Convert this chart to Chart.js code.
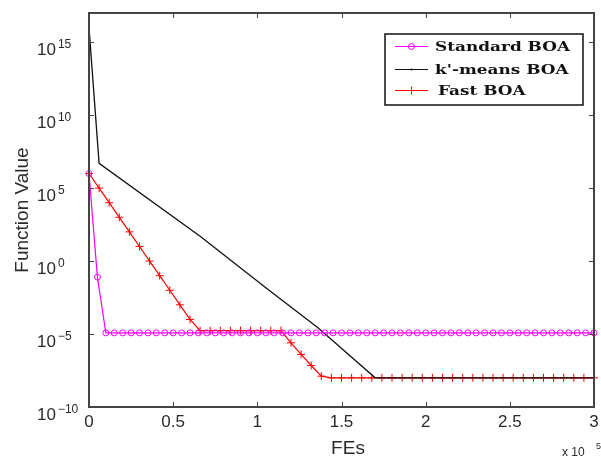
<!DOCTYPE html>
<html>
<head>
<meta charset="utf-8">
<script src="https://cdn.jsdelivr.net/npm/chart.js@4.4.1/dist/chart.umd.min.js"></script>
<style>
  html, body { margin: 0; padding: 0; background: #fff; }
</style>
</head>
<body>
<canvas id="c" width="601" height="457"></canvas>
<script>
// convergence curves, x in function evaluations (FEs)
const fesStandard = [0, 5000, 10000, 15000, 20000, 25000, 30000, 35000, 40000, 45000, 50000,
  55000, 60000, 65000, 70000, 75000, 80000, 85000, 90000, 95000, 100000,
  105000, 110000, 115000, 120000, 125000, 130000, 135000, 140000, 145000, 150000,
  155000, 160000, 165000, 170000, 175000, 180000, 185000, 190000, 195000, 200000,
  205000, 210000, 215000, 220000, 225000, 230000, 235000, 240000, 245000, 250000,
  255000, 260000, 265000, 270000, 275000, 280000, 285000, 290000, 295000, 300000];
const standardBOA = [1e6, 0.08, 1.2e-5, 1.2e-5, 1.2e-5, 1.2e-5, 1.2e-5, 1.2e-5, 1.2e-5, 1.2e-5, 1.2e-5,
  1.2e-5, 1.2e-5, 1.2e-5, 1.2e-5, 1.2e-5, 1.2e-5, 1.2e-5, 1.2e-5, 1.2e-5, 1.2e-5,
  1.2e-5, 1.2e-5, 1.2e-5, 1.2e-5, 1.2e-5, 1.2e-5, 1.2e-5, 1.2e-5, 1.2e-5, 1.2e-5,
  1.2e-5, 1.2e-5, 1.2e-5, 1.2e-5, 1.2e-5, 1.2e-5, 1.2e-5, 1.2e-5, 1.2e-5, 1.2e-5,
  1.2e-5, 1.2e-5, 1.2e-5, 1.2e-5, 1.2e-5, 1.2e-5, 1.2e-5, 1.2e-5, 1.2e-5, 1.2e-5,
  1.2e-5, 1.2e-5, 1.2e-5, 1.2e-5, 1.2e-5, 1.2e-5, 1.2e-5, 1.2e-5, 1.2e-5, 1.2e-5];

const fesKmeans = [0, 6000, 66000, 106000, 136000, 170000, 300000];
const kmeansBOA = [1e16, 5e6, 51, 1.2e-2, 2.7e-5, 1e-8, 1e-8];

const fesFast = [0, 6000, 12000, 18000, 24000, 30000, 36000, 42000, 48000, 54000, 60000,
  66000, 72000, 78000, 84000, 90000, 96000, 102000, 108000, 114000, 120000,
  126000, 132000, 138000, 144000, 150000, 156000, 162000, 168000, 174000, 180000,
  186000, 192000, 198000, 204000, 210000, 216000, 222000, 228000, 234000, 240000,
  246000, 252000, 258000, 264000, 270000, 276000, 282000, 288000, 294000, 300000];
const fastBOA = [1e6, 1e5, 1e4, 1e3, 100, 10, 1, 0.1, 0.01, 1e-3, 1e-4,
  1.7e-5, 1.7e-5, 1.7e-5, 1.7e-5, 1.7e-5, 1.7e-5, 1.7e-5, 1.7e-5, 1.7e-5, 2.5e-6,
  4e-7, 7e-8, 1.3e-8, 1e-8, 1e-8, 1e-8, 1e-8, 1e-8, 1e-8, 1e-8,
  1e-8, 1e-8, 1e-8, 1e-8, 1e-8, 1e-8, 1e-8, 1e-8, 1e-8, 1e-8,
  1e-8, 1e-8, 1e-8, 1e-8, 1e-8, 1e-8, 1e-8, 1e-8, 1e-8, 1e-8];

const seriesNames = ["Standard BOA", "k'-means BOA", "Fast BOA"];
const seriesColors = ["#ff00ff", "#111111", "#ff0000"];

const xTickValues = [0, 50000, 100000, 150000, 200000, 250000, 300000];
const xTickLabels = ["0", "0.5", "1", "1.5", "2", "2.5", "3"];
const yTickExps = [-10, -5, 0, 5, 10, 15];

const AXIS = "#444";
const TXT = "#2a2a2a";
const SANS = "'Liberation Sans', Arial, sans-serif";

function pts(xs, ys) { return xs.map((v, i) => ({ x: v, y: ys[i] })); }

function line(ctx, x1, y1, x2, y2) {
  ctx.beginPath(); ctx.moveTo(x1, y1); ctx.lineTo(x2, y2); ctx.stroke();
}

function marker(ctx, kind, cx, cy, color) {
  ctx.strokeStyle = color; ctx.lineWidth = 1;
  if (kind === "circle") {
    ctx.beginPath(); ctx.arc(cx, cy, 3, 0, Math.PI * 2); ctx.stroke();
  } else if (kind === "cross") {
    line(ctx, cx - 4, cy, cx + 4, cy); line(ctx, cx, cy - 4, cx, cy + 4);
  } else {
    ctx.fillStyle = color; ctx.beginPath(); ctx.arc(cx, cy, 1, 0, Math.PI * 2); ctx.fill();
  }
}

// axes box, inward ticks, labels and legend drawn on top of the plot
const axesDecor = {
  id: "axesDecor",
  afterDraw(chart) {
    const { ctx, chartArea: a, scales: { x, y } } = chart;
    ctx.save();

    ctx.strokeStyle = AXIS; ctx.lineWidth = 1;
    xTickValues.forEach(v => {
      const px = Math.round(x.getPixelForValue(v)) + 0.5;
      line(ctx, px, a.bottom, px, a.bottom - 5);
      line(ctx, px, a.top, px, a.top + 5);
    });
    yTickExps.forEach(e => {
      const py = Math.round(y.getPixelForValue(Math.pow(10, e))) + 0.5;
      line(ctx, a.left, py, a.left + 5, py);
      line(ctx, a.right, py, a.right - 5, py);
    });
    ctx.lineWidth = 2;
    ctx.strokeRect(a.left, a.top, a.right - a.left, a.bottom - a.top);

    // x tick labels
    ctx.fillStyle = TXT;
    ctx.font = "17px " + SANS;
    ctx.textAlign = "center"; ctx.textBaseline = "alphabetic";
    xTickValues.forEach((v, i) => ctx.fillText(xTickLabels[i], x.getPixelForValue(v), a.bottom + 20));

    // y tick labels as 10^n
    yTickExps.forEach(e => {
      const py = y.getPixelForValue(Math.pow(10, e));
      ctx.textAlign = "left";
      ctx.font = "17px " + SANS;
      ctx.fillText("10", 37, py + 13);
      const w = ctx.measureText("10").width;
      ctx.font = "12px " + SANS;
      ctx.fillText(String(e).replace("-", "\u2212"), 37 + w + 2, py + 6);
    });

    // axis titles
    ctx.font = "19px " + SANS;
    ctx.textAlign = "center";
    ctx.fillText("FEs", 348, 454);
    ctx.save();
    ctx.translate(28, (a.top + a.bottom) / 2);
    ctx.rotate(-Math.PI / 2);
    ctx.fillText("Function Value", 0, 0);
    ctx.restore();

    // axis multiplier
    ctx.textAlign = "left";
    ctx.font = "12px " + SANS;
    ctx.fillText("x 10", 562, 456);
    ctx.font = "9px " + SANS;
    ctx.fillText("5", 596, 449);

    // legend
    const lx = 385, ly = 34, lw = 198, lh = 71;
    ctx.fillStyle = "#fff";
    ctx.fillRect(lx, ly, lw, lh);
    ctx.strokeStyle = "#111"; ctx.lineWidth = 1.5;
    ctx.strokeRect(lx, ly, lw, lh);
    const rows = [46, 69, 90];
    const kinds = ["circle", "dot", "cross"];
    ctx.font = "bold 13px 'DejaVu Serif', serif";
    const sx = 135 / ctx.measureText(seriesNames[0]).width;
    rows.forEach((ry, i) => {
      ctx.strokeStyle = seriesColors[i]; ctx.lineWidth = 1;
      line(ctx, 395, ry + 0.5, 428, ry + 0.5);
      marker(ctx, kinds[i], 411.5, ry + 0.5, seriesColors[i]);
      ctx.save();
      ctx.translate(i === 2 ? 438 : 435, ry + 5);
      ctx.scale(sx, 1);
      ctx.fillStyle = "#111";
      ctx.textAlign = "left";
      ctx.fillText(seriesNames[i], 0, 0);
      ctx.restore();
    });

    ctx.restore();
  }
};

new Chart(document.getElementById("c"), {
  type: "line",
  data: {
    datasets: [
      { label: seriesNames[0], data: pts(fesStandard, standardBOA), borderColor: seriesColors[0],
        borderWidth: 1.2, pointStyle: "circle", pointRadius: 3, pointBorderWidth: 1,
        pointBorderColor: seriesColors[0], pointBackgroundColor: "rgba(0,0,0,0)", clip: false },
      { label: seriesNames[1], data: pts(fesKmeans, kmeansBOA), borderColor: seriesColors[1],
        borderWidth: 1.3, pointRadius: 0, clip: false },
      { label: seriesNames[2], data: pts(fesFast, fastBOA), borderColor: seriesColors[2],
        borderWidth: 1.2, pointStyle: "cross", pointRadius: 4, pointBorderWidth: 1,
        pointBorderColor: seriesColors[2], clip: false }
    ]
  },
  options: {
    responsive: false,
    animation: false,
    devicePixelRatio: 1,
    layout: { padding: { left: 89, top: 13, right: 7, bottom: 50 } },
    elements: { line: { tension: 0 } },
    scales: {
      x: { type: "linear", min: 0, max: 300000, display: false },
      y: { type: "logarithmic", min: 1e-10, max: 1e17, display: false }
    },
    plugins: { legend: { display: false }, tooltip: { enabled: false } }
  },
  plugins: [axesDecor]
});
</script>
</body>
</html>
